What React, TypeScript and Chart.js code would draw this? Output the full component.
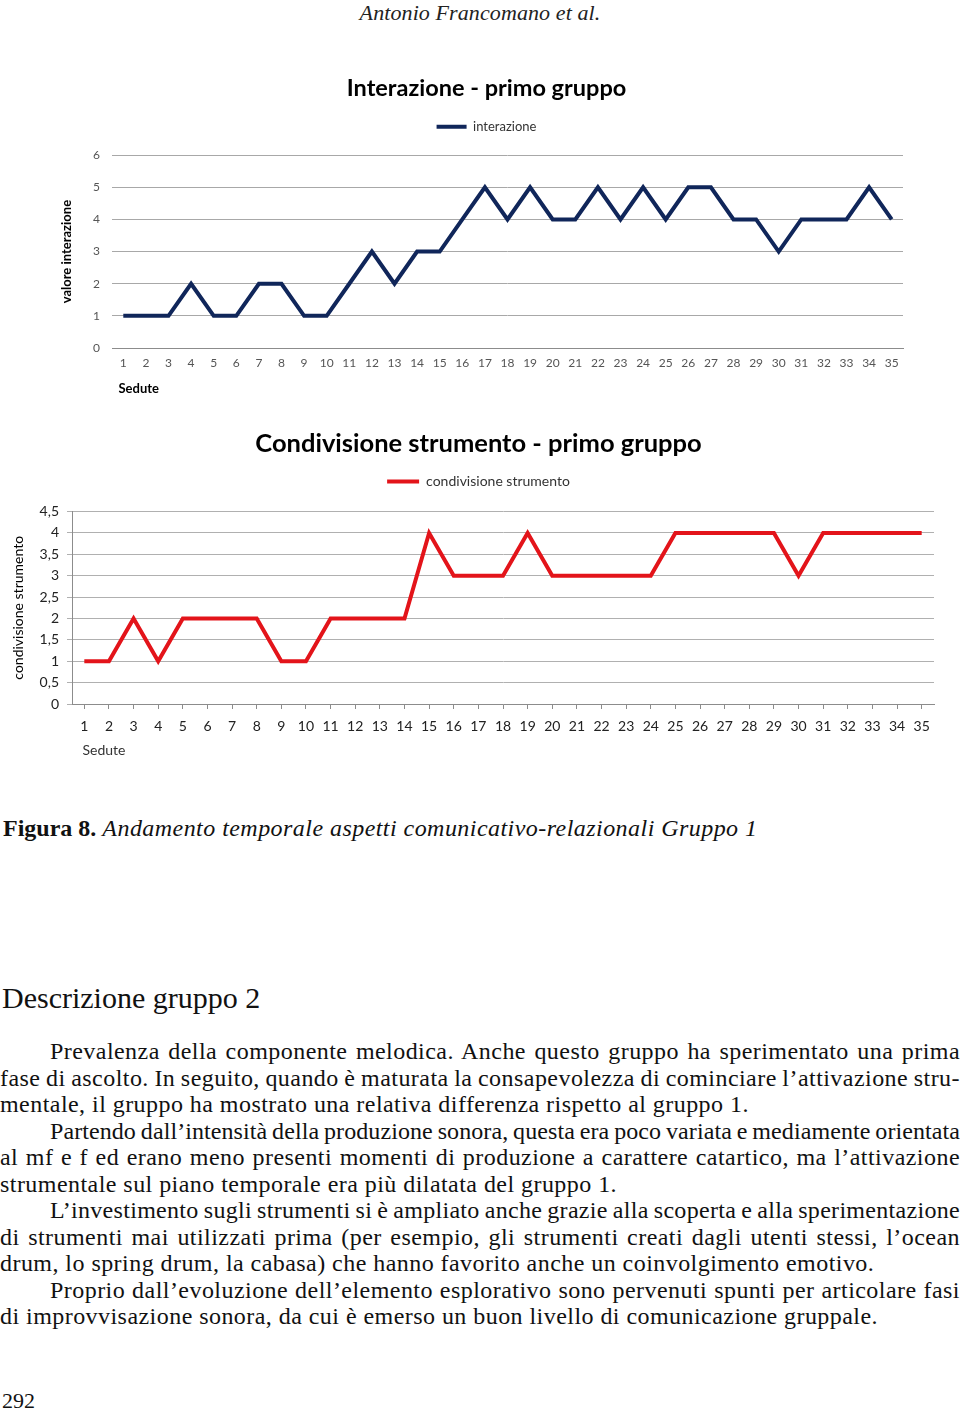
import React, { useEffect, useLayoutEffect, useRef } from 'react';
import { Chart, registerables } from 'chart.js';

Chart.register(...registerables);

// ---------- DATA ----------
const sedute = ['1','2','3','4','5','6','7','8','9','10','11','12','13','14','15','16','17','18','19','20','21','22','23','24','25','26','27','28','29','30','31','32','33','34','35'];
const interazioneValues = [1,1,1,2,1,1,2,2,1,1,2,3,2,3,3,4,5,4,5,4,4,5,4,5,4,5,5,4,4,3,4,4,4,5,4];
const condivisioneValues = [1,1,2,1,2,2,2,2,1,1,2,2,2,2,4,3,3,3,4,3,3,3,3,3,4,4,4,4,4,3,4,4,4,4,4];
const yTicksInterazione = ['0','1','2','3','4','5','6'];
const yTicksCondivisione = ['0','0,5','1','1,5','2','2,5','3','3,5','4','4,5'];

const chartFont = 'Lato';
const serif = '"Liberation Serif", "Times New Roman", serif';

const bodyLines = [
  { text: 'Prevalenza della componente melodica. Anche questo gruppo ha sperimentato una prima', indent: 50, justify: true },
  { text: 'fase di ascolto. In seguito, quando è maturata la consapevolezza di cominciare l’attivazione stru-', indent: 0, justify: true },
  { text: 'mentale, il gruppo ha mostrato una relativa differenza rispetto al gruppo 1.', indent: 0, justify: false },
  { text: 'Partendo dall’intensità della produzione sonora, questa era poco variata e mediamente orientata', indent: 50, justify: true },
  { text: 'al mf e f ed erano meno presenti momenti di produzione a carattere catartico, ma l’attivazione', indent: 0, justify: true },
  { text: 'strumentale sul piano temporale era più dilatata del gruppo 1.', indent: 0, justify: false },
  { text: 'L’investimento sugli strumenti si è ampliato anche grazie alla scoperta e alla sperimentazione', indent: 50, justify: true },
  { text: 'di strumenti mai utilizzati prima (per esempio, gli strumenti creati dagli utenti stessi, l’ocean', indent: 0, justify: true },
  { text: 'drum, lo spring drum, la cabasa) che hanno favorito anche un coinvolgimento emotivo.', indent: 0, justify: false },
  { text: 'Proprio dall’evoluzione dell’elemento esplorativo sono pervenuti spunti per articolare fasi', indent: 50, justify: true },
  { text: 'di improvvisazione sonora, da cui è emerso un buon livello di comunicazione gruppale.', indent: 0, justify: false },
];

function legendLabels(chart: any) {
  return Chart.defaults.plugins.legend.labels.generateLabels(chart).map((l: any) => ({ ...l, lineWidth: 0 }));
}

// adds extra space below the legend
const legendGap = {
  id: 'legendGap',
  beforeInit(chart: any, _a: any, opts: any) {
    const lg = chart.legend;
    if (!lg) return;
    const orig = lg.fit;
    lg.fit = function () {
      orig.call(this);
      this.height += (opts && opts.extra) || 0;
    };
  },
};

const BASE_LS = 0.45;

export default function App() {
  const c1 = useRef<HTMLCanvasElement>(null);
  const c2 = useRef<HTMLCanvasElement>(null);
  const lineRefs = useRef<(HTMLSpanElement | null)[]>([]);

  useLayoutEffect(() => {
    bodyLines.forEach((ln, i) => {
      const el = lineRefs.current[i];
      if (!el || !ln.justify) return;
      const spaces = (ln.text.match(/ /g) || []).length;
      const target = 960 - ln.indent;
      el.style.letterSpacing = BASE_LS + 'px';
      el.style.wordSpacing = '0px';
      let w = el.getBoundingClientRect().width;
      let ws = (target - w) / spaces;
      if (ws < -1.2) {
        const deficit = (-1.2 - ws) * spaces;
        const ls = BASE_LS - deficit / ln.text.length;
        el.style.letterSpacing = ls + 'px';
        w = el.getBoundingClientRect().width;
        ws = (target - w) / spaces;
      }
      el.style.wordSpacing = ws + 'px';
    });
  }, []);

  useEffect(() => {
    const navy = '#10265a';
    const red = '#e3141a';
    const chart1 = new Chart(c1.current!, {
      type: 'line',
      data: {
        labels: sedute,
        datasets: [{
          label: 'interazione',
          data: interazioneValues,
          borderColor: navy,
          backgroundColor: navy,
          borderWidth: 4,
          pointRadius: 0,
          tension: 0,
        }],
      },
      plugins: [legendGap],
      options: {
        animation: false,
        responsive: false,
        maintainAspectRatio: false,
        layout: { padding: { left: 30, right: 17, top: 0, bottom: 0 } },
        plugins: {
          tooltip: { enabled: false },
          legendGap: { extra: 12 },
          title: {
            display: true,
            text: 'Interazione - primo gruppo',
            color: '#000',
            font: { family: chartFont, size: 23.5, weight: 'bold' },
            padding: { top: 14, bottom: 8 },
          },
          legend: {
            display: true,
            labels: {
              boxWidth: 30,
              boxHeight: 4,
              color: '#333',
              font: { family: chartFont, size: 13 },
              padding: 10,
              generateLabels: legendLabels,
            },
          },
        },
        scales: {
          x: {
            offset: true,
            grid: { display: false, drawTicks: false },
            border: { display: true, color: '#8c8c8c', width: 1 },
            ticks: { color: '#555', font: { family: chartFont, size: 12 }, padding: 8, maxRotation: 0, autoSkip: false },
            title: {
              display: true,
              text: '\u2002Sedute',
              align: 'start',
              color: '#000',
              font: { family: chartFont, size: 13, weight: 'bold' },
              padding: { top: 0, bottom: 8 },
            },
            afterFit: (s: any) => { s.height = 57; },
          },
          y: {
            min: 0,
            max: 6,
            ticks: {
              stepSize: 1,
              padding: 12,
              color: '#555',
              font: { family: chartFont, size: 12 },
              callback: (_v: any, i: number) => yTicksInterazione[i],
            },
            grid: { color: '#a8a8a8', drawTicks: false },
            border: { display: false },
            title: {
              display: true,
              text: 'valore interazione',
              color: '#000',
              font: { family: chartFont, size: 13, weight: 'bold' },
              padding: { top: -11, bottom: 0 },
            },
            afterFit: (s: any) => { s.width = 42; },
          },
        },
      },
    } as any);

    const chart2 = new Chart(c2.current!, {
      type: 'line',
      data: {
        labels: sedute,
        datasets: [{
          label: 'condivisione strumento',
          data: condivisioneValues,
          borderColor: red,
          backgroundColor: red,
          borderWidth: 4,
          pointRadius: 0,
          tension: 0,
        }],
      },
      plugins: [legendGap],
      options: {
        animation: false,
        responsive: false,
        maintainAspectRatio: false,
        layout: { padding: { left: 23, right: 16, top: 0, bottom: 0 } },
        plugins: {
          tooltip: { enabled: false },
          legendGap: { extra: 13 },
          title: {
            display: true,
            text: 'Condivisione strumento - primo gruppo',
            color: '#000',
            font: { family: chartFont, size: 25.5, weight: 'bold' },
            padding: { top: 8, bottom: 6 },
          },
          legend: {
            display: true,
            labels: {
              boxWidth: 32,
              boxHeight: 4,
              color: '#333',
              font: { family: chartFont, size: 14 },
              padding: 10,
              generateLabels: legendLabels,
            },
          },
        },
        scales: {
          x: {
            offset: true,
            grid: { display: true, drawOnChartArea: false, drawTicks: true, tickLength: 5, color: '#8c8c8c' },
            border: { display: true, color: '#8c8c8c', width: 1 },
            ticks: { color: '#222', font: { family: chartFont, size: 14 }, padding: 9, maxRotation: 0, autoSkip: false },
            title: {
              display: true,
              text: '\u2003Sedute',
              align: 'start',
              color: '#333',
              font: { family: chartFont, size: 14 },
              padding: { top: 0, bottom: 6 },
            },
            afterFit: (s: any) => { s.height = 61; },
          },
          y: {
            min: 0,
            max: 4.5,
            ticks: {
              stepSize: 0.5,
              padding: 8,
              color: '#222',
              font: { family: chartFont, size: 14 },
              callback: (_v: any, i: number) => yTicksCondivisione[i],
            },
            grid: { color: '#b0b0b0', drawTicks: true, tickLength: 5 },
            border: { display: true, color: '#8c8c8c' },
            title: {
              display: true,
              text: 'condivisione strumento',
              color: '#000',
              font: { family: chartFont, size: 14 },
              padding: { top: -13, bottom: 0 },
            },
            afterFit: (s: any) => { s.width = 49; },
          },
        },
      },
    } as any);

    return () => { chart1.destroy(); chart2.destroy(); };
  }, []);

  const lineTop = 1038;
  const lineH = 26.5;

  return (
    <div style={{ position: 'absolute', left: 0, top: 0, width: 960, height: 1411, overflow: 'hidden', background: '#fff', color: '#111', fontFamily: serif }}>
      <div style={{ position: 'absolute', left: 0, top: 0, width: 960, textAlign: 'center', fontStyle: 'italic', fontSize: 22, letterSpacing: '0.1px', lineHeight: '26px', color: '#222' }}>
        Antonio Francomano et al.
      </div>
      <canvas ref={c1} width={880} height={345} style={{ position: 'absolute', left: 40, top: 60, width: 880, height: 345 }} />
      <canvas ref={c2} width={950} height={345} style={{ position: 'absolute', left: 0, top: 420, width: 950, height: 345 }} />
      <div style={{ position: 'absolute', left: 3, top: 814, whiteSpace: 'nowrap', fontSize: 24, lineHeight: '28px' }}>
        <span style={{ fontWeight: 'bold' }}>Figura 8.</span>{' '}
        <span style={{ fontStyle: 'italic', letterSpacing: '0.45px' }}>Andamento temporale aspetti comunicativo-relazionali Gruppo 1</span>
      </div>
      <div style={{ position: 'absolute', left: 2, top: 981, whiteSpace: 'nowrap', fontSize: 30, lineHeight: '34px' }}>
        Descrizione gruppo 2
      </div>
      {bodyLines.map((ln, i) => (
        <div key={i} style={{ position: 'absolute', left: ln.indent, top: lineTop + i * lineH, whiteSpace: 'nowrap', fontSize: 24, letterSpacing: BASE_LS + 'px', lineHeight: '26px' }}>
          <span ref={(el) => { lineRefs.current[i] = el; }}>{ln.text}</span>
        </div>
      ))}
      <div style={{ position: 'absolute', left: 2, top: 1388, fontSize: 22, lineHeight: '26px' }}>292</div>
    </div>
  );
}
